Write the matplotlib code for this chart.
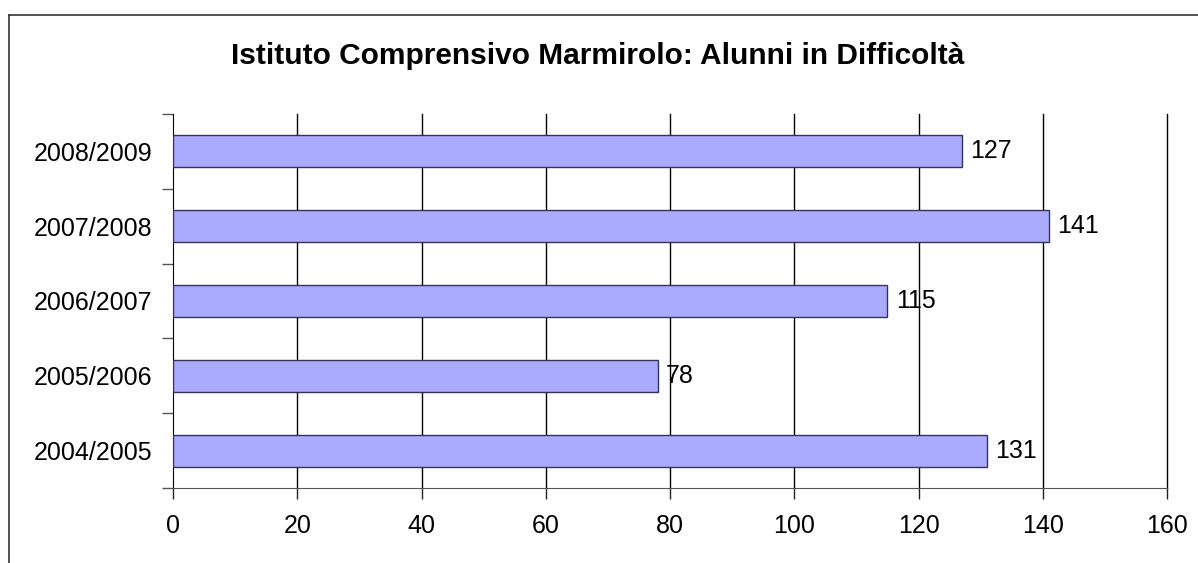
import matplotlib
matplotlib.use("Agg")
import matplotlib.pyplot as plt
from matplotlib.lines import Line2D

plt.rcParams['font.family'] = ['Liberation Sans', 'DejaVu Sans']

# data
anni = ['2004/2005', '2005/2006', '2006/2007', '2007/2008', '2008/2009']
alunni = [131, 78, 115, 141, 127]
xticks = [0, 20, 40, 60, 80, 100, 120, 140, 160]

fig = plt.figure(figsize=(11.98, 5.63), dpi=100)
ax = fig.add_axes([173/1198, 1 - 488/563, (1167 - 173)/1198, (488 - 114)/563])

# outer frame (only top and left edges visible in the picture)
fig.add_artist(Line2D([9/1198, 1], [1 - 15/563, 1 - 15/563], color='#333333', lw=1.2,
                      transform=fig.transFigure))
fig.add_artist(Line2D([9/1198, 9/1198], [0, 1 - 15/563], color='#333333', lw=1.2,
                      transform=fig.transFigure))

pos = range(len(anni))
ax.barh(pos, alunni, height=0.43, color='#aaaaff', edgecolor='#333355', linewidth=1, zorder=3)
for i, v in zip(pos, alunni):
    ax.annotate(str(v), (v, i), xytext=(6, 0), textcoords='offset points',
                va='center', ha='left', fontsize=18, zorder=4)

ax.set_xlim(0, 160)
ax.set_ylim(-0.5, len(anni) - 0.5)
ax.set_xticks(xticks)
ax.set_xticklabels([str(t) for t in xticks], fontsize=18)
ax.set_yticks(list(pos))
ax.set_yticklabels(anni, fontsize=18)
ax.set_yticks([p - 0.5 for p in range(len(anni) + 1)], minor=True)
ax.tick_params(axis='y', which='major', length=0, pad=15)
ax.tick_params(axis='y', which='minor', length=8, color='#555555', width=1)
ax.tick_params(axis='x', length=8, width=1, color='#222222', pad=11)

# vertical grid, drawn unclipped so the line at 160 shows
for t in xticks[1:]:
    ax.axvline(t, color='black', linewidth=1, zorder=0, clip_on=False)
for s in ['top', 'right']:
    ax.spines[s].set_visible(False)
ax.spines['left'].set_color('black')
ax.spines['bottom'].set_color('#555555')

fig.text(598/1198, 1 - 56/563, 'Istituto Comprensivo Marmirolo: Alunni in Difficoltà',
         ha='center', va='center', fontsize=21.5, fontweight='bold')

fig.savefig('out.png', dpi=100)
